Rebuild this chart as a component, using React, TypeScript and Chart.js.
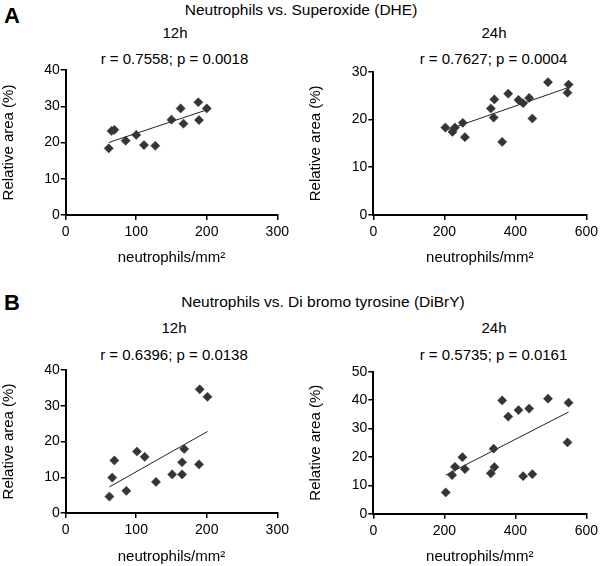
import React, { useEffect, useRef } from "react";
import { Chart, registerables } from "chart.js";

Chart.register(...registerables);

// ---- Data ----
const a12X = [61, 65, 69, 85, 100, 111, 127, 150, 163, 167, 188, 189, 200];
const a12Y = [18.4, 23.2, 23.5, 20.5, 22.1, 19.3, 19.1, 26.3, 29.4, 25.2, 31.1, 26.2, 29.4];
const a12FitX = [61, 200];
const a12FitY = [20.0, 29.0];

const a24X = [203, 223, 230, 252, 258, 331, 339, 341, 363, 380, 409, 422, 439, 448, 492, 547, 550];
const a24Y = [18.3, 17.4, 18.3, 19.3, 16.3, 22.3, 20.4, 24.2, 15.3, 25.4, 24.1, 23.4, 24.5, 20.2, 27.8, 25.6, 27.3];
const a24FitX = [203, 550];
const a24FitY = [17.7, 26.7];

const b12X = [62, 66, 69, 86, 101, 112, 128, 151, 165, 165, 168, 189, 190, 201];
const b12Y = [4.6, 9.9, 14.7, 6.2, 17.2, 15.7, 8.7, 10.8, 10.8, 14.2, 17.9, 13.6, 34.6, 32.5];
const b12FitX = [62, 201];
const b12FitY = [7.3, 22.8];

const b24X = [204, 222, 230, 251, 258, 331, 339, 341, 363, 380, 409, 422, 439, 448, 492, 547, 550];
const b24Y = [7.5, 13.6, 16.5, 19.9, 15.7, 14.2, 22.9, 16.4, 39.9, 34.2, 36.5, 13.2, 37.0, 13.9, 40.5, 25.1, 39.1];
const b24FitX = [204, 550];
const b24FitY = [13.6, 35.8];

const xTitle = "neutrophils/mm²";
const yTitle = "Relative area (%)";
const titleA = "Neutrophils vs. Superoxide (DHE)";
const titleB = "Neutrophils vs. Di bromo tyrosine (DiBrY)";
const statsA12 = "r = 0.7558; p = 0.0018";
const statsA24 = "r = 0.7627; p = 0.0004";
const statsB12 = "r = 0.6396; p = 0.0138";
const statsB24 = "r = 0.5735; p = 0.0161";

const FONT = "'Liberation Sans', Arial, Helvetica, sans-serif";
const INK = "#000";

type PanelProps = {
  left: number; top: number; width: number; height: number;
  padTop: number; padRight: number; yAxisW: number; xAxisH: number;
  xMax: number; xStep: number; yMax: number; yStep: number;
  xs: number[]; ys: number[]; fitX: number[]; fitY: number[];
};

function Panel(p: PanelProps) {
  const ref = useRef<HTMLCanvasElement | null>(null);
  useEffect(() => {
    if (!ref.current) return;
    const chart = new Chart(ref.current, {
      type: "scatter",
      data: {
        datasets: [
          {
            data: p.xs.map((x, i) => ({ x, y: p.ys[i] })),
            pointStyle: "rectRot",
            pointRadius: 4.6,
            backgroundColor: "#353535",
            borderColor: "#353535",
            borderWidth: 0.5,
            order: 1,
          } as any,
          {
            type: "line",
            data: p.fitX.map((x, i) => ({ x, y: p.fitY[i] })),
            borderColor: "#222",
            borderWidth: 1,
            pointRadius: 0,
            showLine: true,
            fill: false,
            order: 2,
          } as any,
        ],
      },
      options: {
        responsive: false,
        animation: false,
        devicePixelRatio: 1,
        layout: { padding: { top: p.padTop, right: p.padRight, left: 0, bottom: 0 } },
        plugins: { legend: { display: false }, tooltip: { enabled: false } },
        scales: {
          x: {
            type: "linear",
            min: 0,
            max: p.xMax,
            ticks: { stepSize: p.xStep, color: INK, font: { family: FONT, size: 14 }, padding: 4, maxRotation: 0 },
            grid: { drawOnChartArea: false, drawTicks: true, tickLength: 5, color: INK, lineWidth: 1.5 },
            border: { display: true, color: INK, width: 2 },
            title: { display: true, text: xTitle, color: INK, font: { family: FONT, size: 15 }, padding: { top: 0, bottom: 3 } },
            afterFit: (s: any) => { s.height = p.xAxisH; },
          },
          y: {
            type: "linear",
            min: 0,
            max: p.yMax,
            ticks: { stepSize: p.yStep, color: INK, font: { family: FONT, size: 14 }, padding: 1 },
            grid: { drawOnChartArea: false, drawTicks: true, tickLength: 5, color: INK, lineWidth: 1.5 },
            border: { display: true, color: INK, width: 2 },
            title: { display: true, text: yTitle, color: INK, font: { family: FONT, size: 15 }, padding: { top: 0, bottom: 0 } },
            afterFit: (s: any) => { s.width = p.yAxisW; },
          },
        },
      } as any,
    });
    return () => chart.destroy();
  }, []);
  return (
    <canvas
      ref={ref}
      width={p.width}
      height={p.height}
      style={{ position: "absolute", left: p.left, top: p.top, width: p.width, height: p.height }}
    />
  );
}

function Label(props: { x: number; y: number; text: string; size?: number; bold?: boolean }) {
  return (
    <div
      style={{
        position: "absolute",
        left: props.x,
        top: props.y,
        transform: "translate(-50%, -50%)",
        whiteSpace: "nowrap",
        fontFamily: FONT,
        fontSize: props.size ?? 15,
        fontWeight: props.bold ? 700 : 400,
        color: INK,
        lineHeight: 1,
      }}
    >
      {props.text}
    </div>
  );
}

export default function App() {
  return (
    <div
      style={{
        position: "absolute",
        left: 0,
        top: 0,
        width: 602,
        height: 566,
        overflow: "hidden",
        background: "#fff",
      }}
    >
      <Label x={12} y={16} text="A" size={22} bold />
      <Label x={301} y={10} text={titleA} size={15.5} />
      <Label x={175} y={32} text="12h" />
      <Label x={494} y={32} text="24h" />
      <Label x={174.5} y={57.5} text={statsA12} />
      <Label x={493.5} y={57.5} text={statsA24} />

      <Label x={12} y={303} text="B" size={22} bold />
      <Label x={323} y={302} text={titleB} size={15.5} />
      <Label x={174} y={327} text="12h" />
      <Label x={494} y={327} text="24h" />
      <Label x={174} y={354} text={statsB12} />
      <Label x={493.5} y={354} text={statsB24} />

      <Panel left={0} top={60} width={300} height={210} padTop={10} padRight={22.7}
        yAxisW={65.7} xAxisH={55} xMax={300} xStep={100} yMax={40} yStep={10}
        xs={a12X} ys={a12Y} fitX={a12FitX} fitY={a12FitY} />
      <Panel left={307} top={60} width={295} height={210} padTop={11.7} padRight={14.7}
        yAxisW={66.3} xAxisH={55} xMax={600} xStep={200} yMax={30} yStep={10}
        xs={a24X} ys={a24Y} fitX={a24FitX} fitY={a24FitY} />
      <Panel left={0} top={360} width={300} height={209} padTop={10} padRight={22.7}
        yAxisW={65.7} xAxisH={56} xMax={300} xStep={100} yMax={40} yStep={10}
        xs={b12X} ys={b12Y} fitX={b12FitX} fitY={b12FitY} />
      <Panel left={307} top={360} width={295} height={209} padTop={11.7} padRight={14.7}
        yAxisW={66.3} xAxisH={55.3} xMax={600} xStep={200} yMax={50} yStep={10}
        xs={b24X} ys={b24Y} fitX={b24FitX} fitY={b24FitY} />
    </div>
  );
}
